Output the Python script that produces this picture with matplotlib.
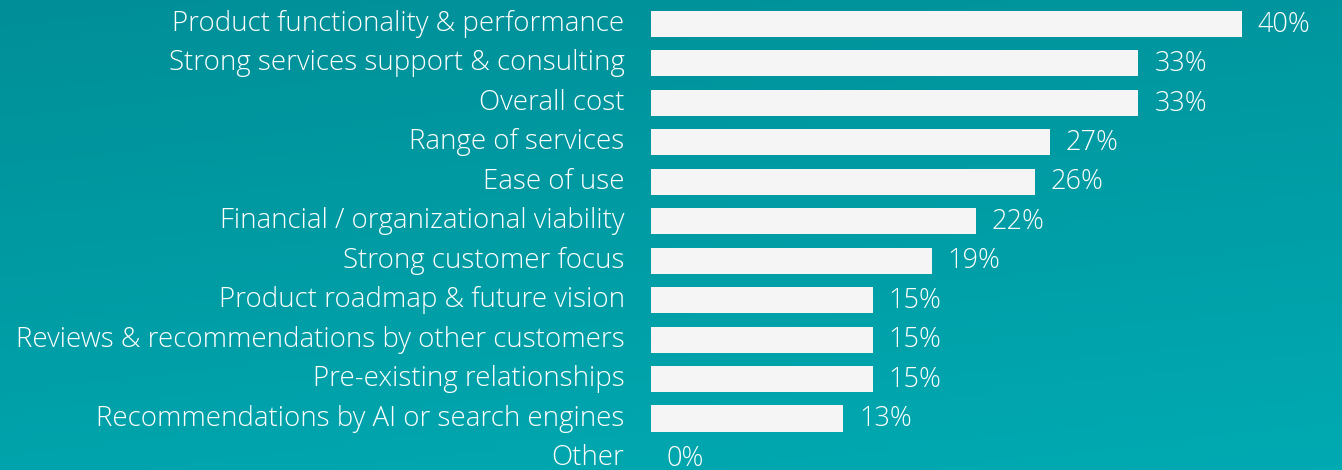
import numpy as np
import matplotlib.pyplot as plt
from matplotlib.colors import LinearSegmentedColormap

# === DATA === #
categories = [
    'Product functionality & performance',
    'Strong services support & consulting',
    'Overall cost',
    'Range of services',
    'Ease of use',
    'Financial / organizational viability',
    'Strong customer focus',
    'Product roadmap & future vision',
    'Reviews & recommendations by other customers',
    'Pre-existing relationships',
    'Recommendations by AI or search engines',
    'Other',
]
values = [40, 33, 33, 27, 26, 22, 19, 15, 15, 15, 13, 0]

plt.rcParams['font.family'] = ['Open Sans', 'DejaVu Sans']
plt.rcParams['font.weight'] = 300

fig = plt.figure(figsize=(13.42, 4.70), dpi=100)

# background gradient (darker teal top-left, lighter bottom-right)
bg = fig.add_axes([0, 0, 1, 1], zorder=0)
gx, gy = np.meshgrid(np.linspace(0, 1, 200), np.linspace(0, 1, 100))
grad = 0.75 * gy + 0.25 * gx
cmap = LinearSegmentedColormap.from_list('teal', ['#008f98', '#00aab2'])
bg.imshow(grad, cmap=cmap, aspect='auto', extent=[0, 1, 1, 0])
bg.axis('off')

ax = fig.add_axes([651 / 1342, 0, 1 - 651 / 1342, 1], zorder=1)
ax.patch.set_alpha(0)

y = np.arange(len(categories))
ax.barh(y, values, height=0.66, color='#f5f5f5')

ax.set_xlim(0, (1342 - 651) / 14.77)
ax.set_ylim(11.305, -0.608)

for yi, v in zip(y, values):
    ax.annotate(f'{v}%', xy=(v, yi), xytext=(11.5, -0.5), textcoords='offset points',
                va='center', ha='left', color='white', fontsize=19.5, fontweight=300)

ax.set_yticks(y)
ax.set_yticklabels(categories, color='white', fontsize=19.9, fontweight=300)
ax.tick_params(axis='y', length=0, pad=19)
for lbl in ax.get_yticklabels():
    lbl.set_verticalalignment('center')
ax.set_xticks([])
for s in ax.spines.values():
    s.set_visible(False)

fig.savefig('out.png', dpi=100)
